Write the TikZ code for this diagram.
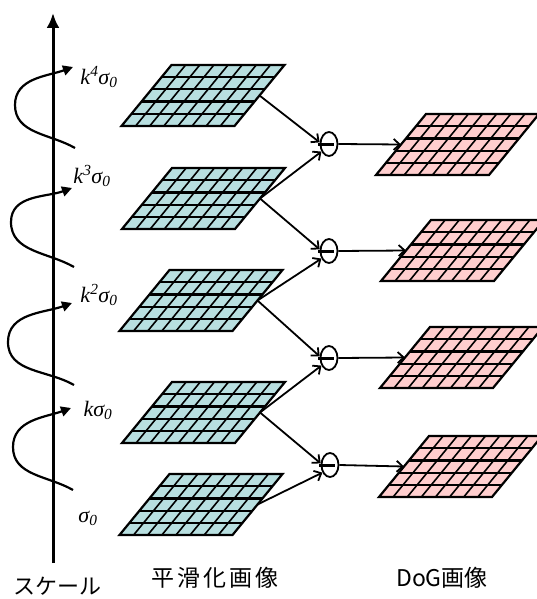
\documentclass[tikz,border=0pt]{standalone}
\usepackage{fontspec}
\setmainfont{Liberation Serif}
\newfontfamily\jpfont{Noto Sans CJK JP}
\usetikzlibrary{arrows.meta,shapes.geometric}
\definecolor{gfill}{RGB}{184,223,224}
\definecolor{pfill}{RGB}{255,206,206}
\newcommand\pgrid[4]{%
  \fill[#4] (#2,#3) -- ++(113,0) -- ++(50,-61) -- ++(-113,0) -- cycle;
  \foreach \i in {1,...,4} {\draw[line width=2.2pt] ({#2+10*\i},{#3-12.2*\i}) -- ++(113,0);}
  \foreach \j in {1,...,7} {\draw[line width=1.6pt] ({#2+113*\j/8},#3) -- ++(50,-61);}
  \draw[line width=2.2pt,line join=miter] (#2,#3) -- ++(113,0) -- ++(50,-61) -- ++(-113,0) -- cycle;
  \coordinate (#1r) at ({#2+138},{#3-30.5});
  \coordinate (#1l) at ({#2+25},{#3-30.5});
}
\tikzset{
  conn/.style={line width=1.8pt,-{Straight Barb[length=6pt,width=11pt]}},
  curv/.style={line width=2.2pt,-{Triangle[length=10pt,width=10pt]}},
  lab/.style={font=\fontsize{22}{22}\selectfont\itshape,inner sep=0pt},
  jlab/.style={font=\jpfont\fontsize{22}{22}\selectfont,inner sep=0pt},
  sub/.style={ellipse,draw,line width=1.8pt,minimum width=17pt,minimum height=24pt,inner sep=0pt}
}
\begin{document}
\begin{tikzpicture}[x=1pt,y=-1pt]
\useasboundingbox (0,0) rectangle (537,599);
% axis
\coordinate (ab) at (53,563);
\coordinate (at) at (53,13);
\draw[line width=3pt,-{Latex[length=15pt,width=13pt]}] (ab) -- (at);
% curved arrows
\draw[curv] (75,148) to[out=150,in=-90] (15,105) to[out=90,in=200] (73,67);
\draw[curv] (74,267) to[out=150,in=-90] (11,222) to[out=90,in=200] (72,188);
\draw[curv] (74,385) to[out=150,in=-90] (8,342) to[out=90,in=200] (72,303);
\draw[curv] (73,490) to[out=150,in=-90] (13,447) to[out=90,in=200] (71,408);
% labels
\node[lab] (l4) at (99,77) {k\textsuperscript{4}σ\textsubscript{0}};
\node[lab] (l3) at (92,176) {k\textsuperscript{3}σ\textsubscript{0}};
\node[lab] (l2) at (99,295) {k\textsuperscript{2}σ\textsubscript{0}};
\node[lab] (l1) at (98,410) {kσ\textsubscript{0}};
\node[lab] (l0) at (88,518) {σ\textsubscript{0}};
% green grids
\pgrid{g5}{121.5}{126}{gfill}
\pgrid{g4}{122}{229}{gfill}
\pgrid{g3}{119.5}{331}{gfill}
\pgrid{g2}{122}{443}{gfill}
\pgrid{g1}{119.5}{535}{gfill}
% pink grids
\pgrid{p4}{376}{175}{pfill}
\pgrid{p3}{381}{281}{pfill}
\pgrid{p2}{380}{388}{pfill}
\pgrid{p1}{379}{497}{pfill}
% subtraction nodes
\node[sub] (e4) at (329,144) {};
\node[sub] (e3) at (329,251) {};
\node[sub] (e2) at (329,358) {};
\node[sub] (e1) at (330,465) {};
\foreach \e in {e1,e2,e3,e4} {
  \draw[line width=3pt] ([xshift=-11pt]\e.center) -- ([xshift=5pt]\e.center);
}
% connectors
\draw[conn] (g5r) -- (e4.170);
\draw[conn] (g4r) -- (e4.225);
\draw[conn] (g4r) -- (e3.170);
\draw[conn] (g3r) -- (e3.225);
\draw[conn] (g3r) -- (e2.170);
\draw[conn] (g2r) -- (e2.225);
\draw[conn] (g2r) -- (e1.170);
\draw[conn] (g1r) -- (e1.225);
\draw[conn] (e4.east) -- (p4l);
\draw[conn] (e3.east) -- (p3l);
\draw[conn] (e2.east) -- (p2l);
\draw[conn] (e1.east) -- (p1l);
% bottom labels
\node[jlab] (ts) at (57,586) {スケール};
\node[jlab,font=\jpfont\fontsize{23}{23}\selectfont\addfontfeature{LetterSpace=14}] (tg) at (215,578) {平滑化画像};
\node[jlab,font=\jpfont\fontsize{23}{23}\selectfont] (td) at (442,578) {DoG画像};
\end{tikzpicture}
\end{document}
